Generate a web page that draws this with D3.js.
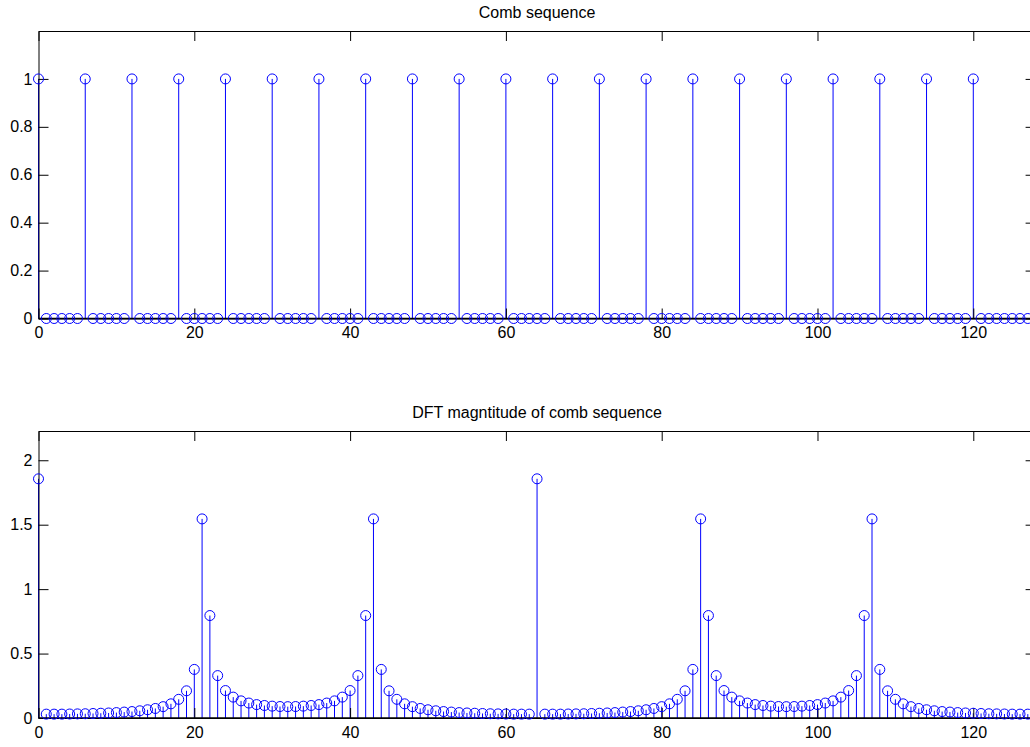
<!DOCTYPE html>
<html><head><meta charset="utf-8">
<script src="https://cdn.jsdelivr.net/npm/d3@7/dist/d3.min.js"></script>
<style>
body{margin:0;background:#fff;}
svg{display:block;font-family:"Liberation Sans",Arial,Helvetica,sans-serif;}
</style></head>
<body><svg id="chart" width="1030" height="747"></svg>
<script>
// ---------------- DATA ----------------
const topTitle = "Comb sequence";
const bottomTitle = "DFT magntitude of comb sequence";
const xTicks = [0, 20, 40, 60, 80, 100, 120];
const topYTicks = [0, 0.2, 0.4, 0.6, 0.8, 1];
const bottomYTicks = [0, 0.5, 1, 1.5, 2];
const xDomain = [0, 128];
const topYDomain = [0, 1.2];
const bottomYDomain = [0, 2.227];

// comb sequence, n = 0..127
const comb = [
1,0,0,0,0,0, 1,0,0,0,0,0, 1,0,0,0,0,0, 1,0,0,0,0,0, 1,0,0,0,0,0,
1,0,0,0,0,0, 1,0,0,0,0,0, 1,0,0,0,0,0, 1,0,0,0,0,0, 1,0,0,0,0,0,
1,0,0,0,0,0, 1,0,0,0,0,0, 1,0,0,0,0,0, 1,0,0,0,0,0, 1,0,0,0,0,0,
1,0,0,0,0,0, 1,0,0,0,0,0, 1,0,0,0,0,0, 1,0,0,0,0,0, 1,0,0,0,0,0,
1,0,0,0,0,0, 0,0
];

// DFT magnitude, k = 0..127
const dftMag = [
1.856,0.030,0.030,0.030,0.031,0.032,0.033,0.035,0.037,0.039,
0.042,0.046,0.050,0.056,0.064,0.074,0.088,0.110,0.145,0.211,
0.377,1.545,0.795,0.329,0.213,0.162,0.133,0.116,0.104,0.097,
0.092,0.089,0.088,0.089,0.092,0.097,0.104,0.116,0.133,0.162,
0.213,0.329,0.795,1.545,0.377,0.211,0.145,0.110,0.088,0.074,
0.064,0.056,0.050,0.046,0.042,0.039,0.037,0.035,0.033,0.032,
0.031,0.030,0.030,0.030,1.856,0.030,0.030,0.030,0.031,0.032,
0.033,0.035,0.037,0.039,0.042,0.046,0.050,0.056,0.064,0.074,
0.088,0.110,0.145,0.211,0.377,1.545,0.795,0.329,0.213,0.162,
0.133,0.116,0.104,0.097,0.092,0.089,0.088,0.089,0.092,0.097,
0.104,0.116,0.133,0.162,0.213,0.329,0.795,1.545,0.377,0.211,
0.145,0.110,0.088,0.074,0.064,0.056,0.050,0.046,0.042,0.039,
0.037,0.035,0.033,0.032,0.031,0.030,0.030,0.030
];

// ---------------- DRAW ----------------
const svg = d3.select("#chart");
svg.append("rect").attr("width",1030).attr("height",747).attr("fill","#fff");

function panel(values, yDomain, yTicks, title, box) {
  const x = d3.scaleLinear().domain(xDomain).range([box.left, box.right]);
  const y = d3.scaleLinear().domain(yDomain).range([box.bottom, box.top]);
  const g = svg.append("g");

  // title
  g.append("text").attr("x", (box.left + box.right) / 2).attr("y", box.titleY)
    .attr("text-anchor","middle").attr("font-size",16).attr("fill","#000").text(title);

  // stems
  const data = values.map((v, i) => ({n: i, v: v}));
  g.selectAll("line.stem").data(data.filter(d => d.v !== 0)).join("line")
    .attr("class","stem")
    .attr("x1", d => x(d.n)).attr("x2", d => x(d.n))
    .attr("y1", y(0)).attr("y2", d => y(d.v))
    .attr("stroke","#0000ff").attr("stroke-width",1);

  // axes (ticks inward)
  const fmt = d3.format("~g");
  const ax = (axis, transform, labels) => {
    const a = g.append("g").attr("transform", transform).call(axis);
    a.selectAll(".tick line").attr("stroke","#000").attr("stroke-width",1);
    a.select(".domain").attr("stroke","#000").attr("stroke-width",1);
    a.selectAll("text").attr("font-size",16).attr("fill","#000")
      .attr("font-family","\"Liberation Sans\",Arial,Helvetica,sans-serif");
    if (!labels) a.selectAll("text").remove();
    return a;
  };
  ax(d3.axisBottom(x).tickValues(xTicks).tickFormat(fmt).tickSizeInner(-10).tickSizeOuter(0).tickPadding(8.5),
     `translate(0,${box.bottom})`, true);
  ax(d3.axisTop(x).tickValues(xTicks).tickSizeInner(-10).tickSizeOuter(0),
     `translate(0,${box.top})`, false);
  ax(d3.axisLeft(y).tickValues(yTicks).tickFormat(fmt).tickSizeInner(-10).tickSizeOuter(0).tickPadding(6),
     `translate(${box.left},0)`, true);
  ax(d3.axisRight(y).tickValues(yTicks).tickSizeInner(-10).tickSizeOuter(0),
     `translate(${box.right},0)`, false);

  // baseline
  g.append("line").attr("x1", box.left).attr("x2", box.right)
    .attr("y1", y(0)).attr("y2", y(0)).attr("stroke","#000").attr("stroke-width",1.5);

  // markers
  g.selectAll("circle.mk").data(data).join("circle")
    .attr("class","mk")
    .attr("cx", d => x(d.n)).attr("cy", d => y(d.v)).attr("r", 5)
    .attr("fill","none").attr("stroke","#0000ff").attr("stroke-width",1);
}

panel(comb, topYDomain, topYTicks, topTitle,
  {left: 38.5, right: 1035.6, top: 31, bottom: 318.5, titleY: 18});
panel(dftMag, bottomYDomain, bottomYTicks, bottomTitle,
  {left: 38.5, right: 1035.6, top: 431, bottom: 718, titleY: 418});
</script>
</body></html>
